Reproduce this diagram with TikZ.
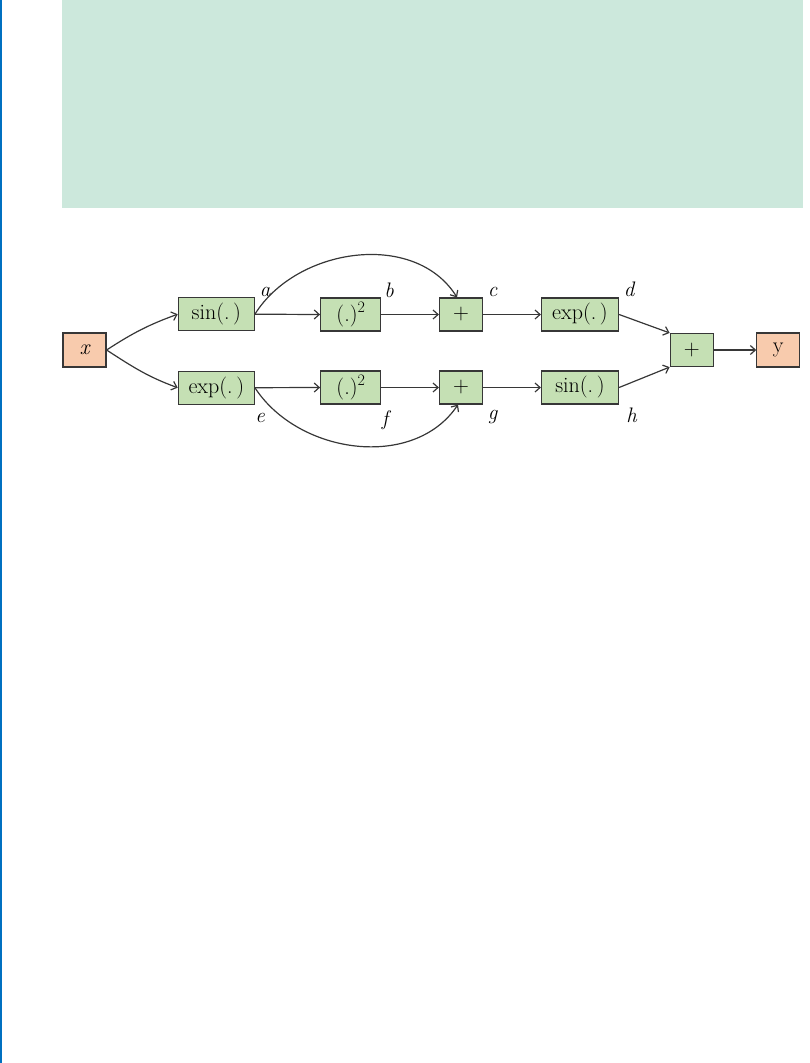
\documentclass[tikz,border=0pt]{standalone}
\usetikzlibrary{arrows.meta}
\definecolor{bgteal}{RGB}{204,232,220}
\definecolor{leftblue}{RGB}{0,112,192}
\definecolor{boxgreen}{RGB}{197,224,180}
\definecolor{boxorange}{RGB}{248,203,173}
\definecolor{edgegray}{RGB}{55,55,55}
\newcommand{\sqsup}{\raisebox{0.38em}{\fontsize{16}{16}\selectfont 2}}
\begin{document}
\begin{tikzpicture}[x=1pt,y=1pt,
  opbox/.style={draw=edgegray, line width=1.2pt, fill=boxgreen, minimum height=33pt, inner sep=0pt, font=\fontsize{22}{24}\selectfont},
  iobox/.style={opbox, fill=boxorange, minimum width=43pt, minimum height=34pt},
  lbl/.style={font=\fontsize{21}{24}\selectfont\itshape, inner sep=0pt},
  conn/.style={draw=edgegray, line width=1.2pt, -{Straight Barb[length=5pt,width=9pt]}}
]
\useasboundingbox (0,0) rectangle (810,-1063);
\fill[bgteal] (62,0) rectangle (803,-208);
\fill[leftblue] (0,0) rectangle (2,-1063);

\node[iobox] (x) at (84.5,-350) {\itshape x};
\node[opbox, minimum width=76pt] (sinA) at (216.3,-314.2) {sin(.\,)};
\node[opbox, minimum width=76pt] (expA) at (216.3,-387.7) {exp(.\,)};
\node[opbox, minimum width=60pt] (sqA) at (350.7,-314.5) {(.)\sqsup};
\node[opbox, minimum width=60pt] (sqB) at (350.7,-387.5) {(.)\sqsup};
\node[opbox, minimum width=43pt] (plA) at (461,-314.5) {+};
\node[opbox, minimum width=43pt] (plB) at (461,-387.5) {+};
\node[opbox, minimum width=77pt] (expB) at (580,-314.5) {exp(.\,)};
\node[opbox, minimum width=77pt] (sinB) at (580,-387.5) {sin(.\,)};
\node[opbox, minimum width=43pt] (plC) at (691.7,-350) {+};
\node[iobox] (y) at (778.3,-350) {y};

\node[lbl] (la) at (265,-292) {a};
\node[lbl] (lb) at (389,-290) {b};
\node[lbl] (lc) at (492.7,-291.7) {c};
\node[lbl] (ld) at (629,-289) {d};
\node[lbl] (le) at (260,-418) {e};
\node[lbl] (lf) at (385,-420) {f};
\node[lbl] (lg) at (492.7,-416.7) {g};
\node[lbl] (lh) at (631.7,-415) {h};

\draw[conn] (x.east) to[out=33,in=200] (sinA.west);
\draw[conn] (x.east) to[out=-33,in=160] (expA.west);
\draw[conn] (sinA.east) -- (sqA.west);
\draw[conn] (sqA.east) -- (plA.west);
\draw[conn] (plA.east) -- (expB.west);
\draw[conn] (expA.east) -- (sqB.west);
\draw[conn] (sqB.east) -- (plB.west);
\draw[conn] (plB.east) -- (sinB.west);
\draw[conn] (sinA.east) to[out=58,in=122] ([xshift=-4pt]plA.north);
\draw[conn] (expA.east) to[out=-57,in=-124] ([xshift=-3pt]plB.south);
\draw[conn] (expB.east) -- (plC.north west);
\draw[conn] (sinB.east) -- (plC.south west);
\draw[conn] (plC.east) -- (y.west);
\end{tikzpicture}
\end{document}
